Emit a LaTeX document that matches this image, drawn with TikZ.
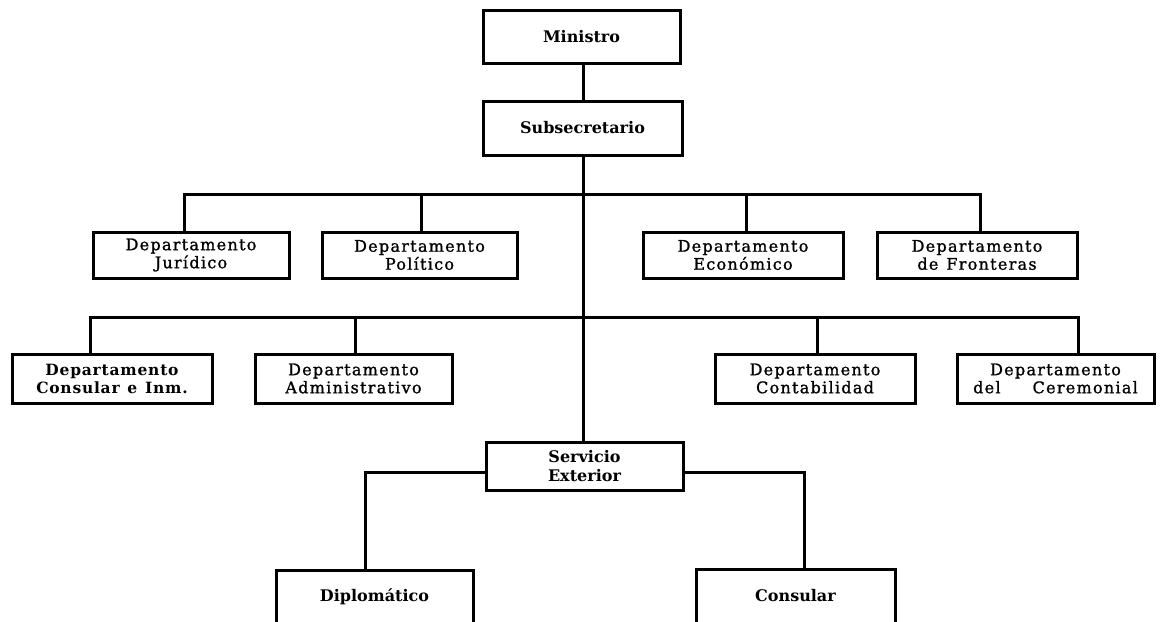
\documentclass[tikz,border=0pt]{standalone}
\usepackage{fontspec}
\setmainfont{DejaVu Serif}
\newfontfamily\deptfont{DejaVu Serif}[FakeBold=1.2,LetterSpace=8]
\newfontfamily\headfont{DejaVu Serif Bold}
\newfontfamily\coifont{DejaVu Serif Bold}[LetterSpace=5]
\begin{document}
\begin{tikzpicture}[x=1pt,y=-1pt,
  box/.style={draw,line width=3pt,inner sep=0pt,outer sep=0pt,align=center,
    font=\deptfont\fontsize{16}{18}\selectfont},
  headbox/.style={box,font=\headfont\fontsize{16}{19}\selectfont},
  conn/.style={line width=3pt}]
\useasboundingbox (0,0) rectangle (1161,621);
% top
\node[headbox,minimum width=197,minimum height=53] (min) at (581.5,36.5) {Ministro};
\node[headbox,minimum width=199,minimum height=54] (sub) at (582.5,128) {Subsecretario};
% row 1
\node[box,minimum width=196,minimum height=46] (jur) at (191,255) {Departamento\\Jurídico};
\node[box,minimum width=195,minimum height=46] (pol) at (419.5,255) {Departamento\\Político};
\node[box,minimum width=200,minimum height=46] (eco) at (743,255) {Departamento\\Económico};
\node[box,minimum width=200,minimum height=46] (fro) at (977,255) {Departamento\\de\enspace Fronteras};
% row 2
\node[box,minimum width=200,minimum height=49,font=\coifont\fontsize{15.5}{18}\selectfont] (coi) at (112,378.5) {Departamento\\Consular\enspace e\enspace Inm.};
\node[box,minimum width=197,minimum height=49] (adm) at (353.5,378.5) {Departamento\\Administrativo};
\node[box,minimum width=200,minimum height=49] (cnt) at (815,378.5) {Departamento\\Contabilidad};
\node[box,minimum width=197,minimum height=49] (cer) at (1055.5,378.5) {Departamento\\del\qquad Ceremonial};
% servicio exterior
\node[headbox,minimum width=197,minimum height=48] (ser) at (584.5,466) {Servicio\\Exterior};
\node[headbox,minimum width=197,minimum height=54] (dip) at (374.5,597) {Diplomático};
\node[headbox,minimum width=199,minimum height=54] (cns) at (795.5,596) {Consular};
% spine coordinates
\coordinate (s1) at (583,194);
\coordinate (bj) at (184,194);
\coordinate (bp) at (421,194);
\coordinate (be) at (746,194);
\coordinate (bf) at (980,194);
\coordinate (bc) at (90,317);
\coordinate (ba) at (355,317);
\coordinate (bt) at (817,317);
\coordinate (bm) at (1078,317);
\coordinate (dl) at (365,472);
\coordinate (dr) at (804,472);
% connectors
\draw[conn] (min.south -| s1) -- (sub.north -| s1);
\draw[conn] (sub.south -| s1) -- (ser.north -| s1);
\draw[conn] (bj |- jur.north) -- (bj) -- (bf) -- (bf |- fro.north);
\draw[conn] (bp) -- (bp |- pol.north);
\draw[conn] (be) -- (be |- eco.north);
\draw[conn] (bc |- coi.north) -- (bc) -- (bm) -- (bm |- cer.north);
\draw[conn] (ba) -- (ba |- adm.north);
\draw[conn] (bt) -- (bt |- cnt.north);
\draw[conn] (ser.west |- dl) -- (dl) -- (dl |- dip.north);
\draw[conn] (ser.east |- dr) -- (dr) -- (dr |- cns.north);
\end{tikzpicture}
\end{document}
